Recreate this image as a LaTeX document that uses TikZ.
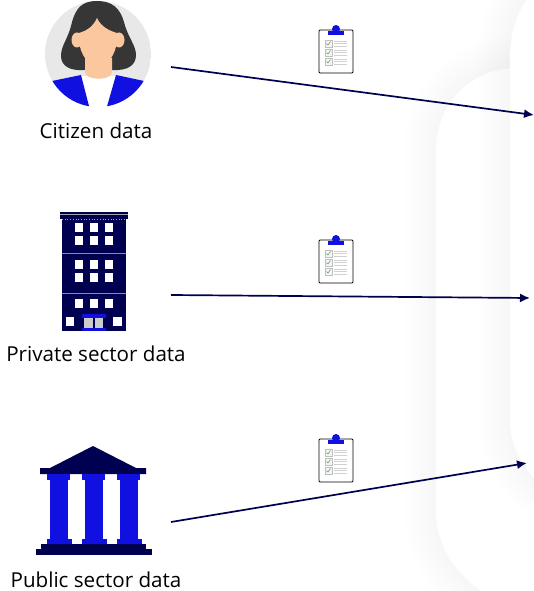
\documentclass[tikz,border=0pt]{standalone}
\usepackage{fontspec}
\setmainfont{Open Sans}
\usetikzlibrary{arrows.meta}

\definecolor{navy}{HTML}{000050}
\definecolor{royal}{HTML}{1010E0}
\definecolor{skin}{HTML}{FBC79F}
\definecolor{hair}{HTML}{363636}

\tikzset{
    caption/.style={anchor=center, inner sep=0pt, font=\fontsize{20.6}{22}\selectfont},
    link/.style={draw=navy, line width=1.7pt, -{Latex[length=10pt,width=9pt]}},
    window/.style={fill=white},
    shadow/.style={draw=black, draw opacity=0.005},
    clipboard/.pic={
        \draw[black, fill=white, line width=0.9pt, rounded corners=1pt] (-17,-19) rectangle (17,24);
        \fill[royal] (-8,-18) rectangle (8,-14);
        \fill[royal] (0,-20) circle (4);
        \foreach \y in {-5.5,3.5,12.5} {
            \draw[black!25, fill=black!4, line width=0.6pt] (-11,\y-3.5) rectangle (-4,\y+3.5);
            \draw[green!45!black!70, line width=0.5pt] (-9.5,\y) -- (-8,\y+1.5) -- (-5.5,\y-2);
            \foreach \d in {-2.5,0,2.5} {
                \draw[black!18, line width=0.5pt] (-2,\y+\d) -- (11,\y+\d);
            }
        }
    }
}

\begin{document}
\begin{tikzpicture}[x=1pt, y=-1pt]
    \useasboundingbox (0,0) rectangle (534,591);

    % panels at the right
    \foreach \w in {8,16,...,64} {
        \draw[shadow, line width=\w pt] (495,600) .. controls (460,580) and (436,550) .. (436,510) -- (436,150) .. controls (436,105) and (470,68) .. (516,68) -- (540,68);
    }
    \fill[white] (495,600) .. controls (460,580) and (436,550) .. (436,510) -- (436,150) .. controls (436,105) and (470,68) .. (516,68) -- (540,68) -- (540,600) -- cycle;
    \foreach \w in {8,16,...,64} {
        \draw[shadow, line width=\w pt] (545,490) .. controls (525,470) and (510,450) .. (510,420) -- (510,60) .. controls (510,35) and (515,15) .. (530,-5);
    }
    \fill[white] (545,490) .. controls (525,470) and (510,450) .. (510,420) -- (510,60) .. controls (510,35) and (515,15) .. (530,-5) -- (545,-5) -- cycle;

    % citizen
    \begin{scope}
        \clip (98,54) circle (53);
        \fill[black!9] (45,0) rectangle (151,107);
        \fill[white] (78,76) -- (118,76) -- (118,110) -- (78,110) -- cycle;
        \fill[royal] (52,81) -- (81,75) -- (90,110) -- (45,110) -- cycle;
        \fill[royal] (144,81) -- (116,75) -- (106,110) -- (150,110) -- cycle;
    \end{scope}
    \fill[hair] (97,1) .. controls (82,1) and (76,8) .. (72,22) .. controls (68,40) and (61,45) .. (61,56) .. controls (61,66) and (70,71) .. (84,70) -- (112,70) .. controls (128,71) and (136,65) .. (136,55) .. controls (136,45) and (128,38) .. (124,22) .. controls (120,8) and (112,1) .. (97,1) -- cycle;
    \fill[skin] (85,58) -- (112,58) -- (112,72) .. controls (112,81) and (85,81) .. (85,72) -- cycle;
    \fill[skin] (77,40) ellipse (5.5 and 7.5);
    \fill[skin] (119,40) ellipse (5.5 and 7.5);
    \fill[skin] (97,18) .. controls (93,27) and (86,31) .. (79,33) .. controls (78,50) and (85,65) .. (98,65) .. controls (111,65) and (118,50) .. (117,33) .. controls (110,31) and (101,27) .. (97,18) -- cycle;
    \node[caption] (citizen) at (96,130.5) {Citizen data};

    % private sector
    \fill[navy] (62,219) rectangle (126,331);
    \fill[navy] (60,212) rectangle (128,219);
    \draw[black!35, line width=0.7pt] (60,214.5) -- (128,214.5);
    \draw[black!35, line width=0.7pt, dotted] (62,219) -- (126,219);
    \draw[black!45, line width=0.9pt] (62,253) -- (126,253);
    \draw[black!45, line width=0.9pt] (62,293) -- (126,293);
    \foreach \y in {223,236,260,273,299} {
        \foreach \x in {75,90,105} {
            \fill[window] (\x,\y) rectangle (\x+8,\y+9);
        }
    }
    \fill[window] (66,317) rectangle (74,326);
    \fill[window] (113,317) rectangle (122,326);
    \fill[royal] (82,314) rectangle (106,317.5);
    \fill[royal] (82,328) rectangle (106,331);
    \fill[black!20] (84,318) rectangle (93,328);
    \fill[black!20] (94.5,318) rectangle (103,328);
    \node[caption] (private) at (96,354) {Private sector data};

    % public sector
    \fill[navy] (93,446) -- (136,468) -- (146,468) -- (146,474) -- (40,474) -- (40,468) -- (50,468) -- cycle;
    \foreach \x in {50,85,120} {
        \fill[royal] (\x-3,474) rectangle (\x+20,480);
        \fill[royal] (\x,480) rectangle (\x+18,540);
        \fill[royal] (\x-3,539) rectangle (\x+22,545);
    }
    \fill[navy] (41,544) rectangle (146,549);
    \fill[navy] (36,549) rectangle (152,555);
    \node[caption] (public) at (96,580) {Public sector data};

    % connectors
    \coordinate (citizenout) at (171,67);
    \coordinate (privateout) at (171,295);
    \coordinate (publicout) at (171,522);
    \coordinate (citizenin) at (534,115);
    \coordinate (privatein) at (530,298);
    \coordinate (publicin) at (527,463);
    \draw[link] (citizenout) -- (citizenin);
    \draw[link] (privateout) -- (privatein);
    \draw[link] (publicout) -- (publicin);

    \pic at (336,49) {clipboard};
    \pic at (336,259) {clipboard};
    \pic at (336,458) {clipboard};
\end{tikzpicture}
\end{document}
